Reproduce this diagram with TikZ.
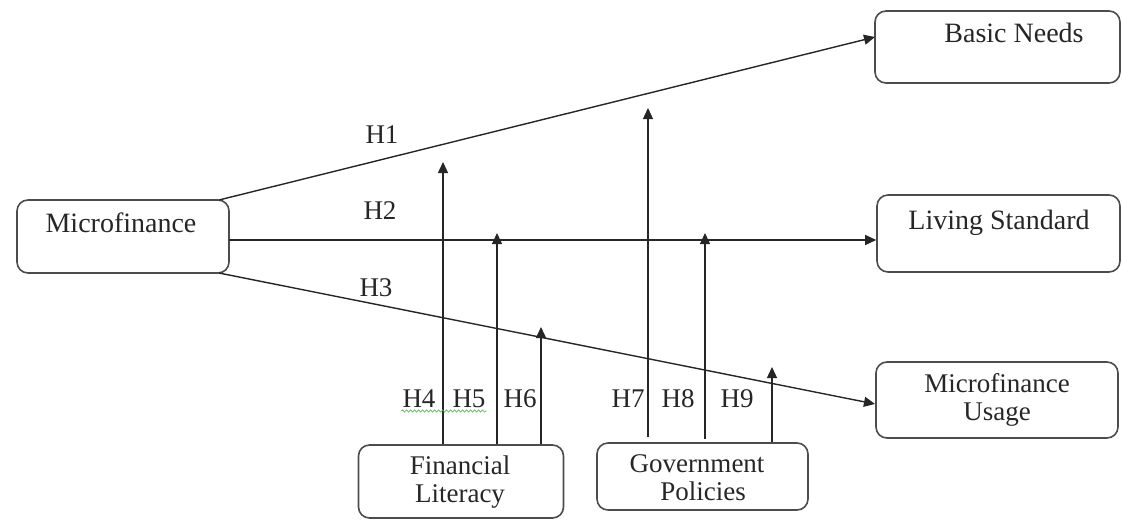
\documentclass[tikz,border=0pt]{standalone}
\usepackage{fontspec}
\setmainfont{Liberation Serif}
\usetikzlibrary{arrows.meta,decorations.pathmorphing}
\begin{document}
\begin{tikzpicture}[x=1pt,y=-1pt,
  box/.style={draw=black!70,line width=1.6pt,rounded corners=11pt,inner sep=0pt},
  lbl/.style={font=\fontsize{28}{25}\selectfont,inner sep=0pt,anchor=base,text=black!85,align=center},
  lbltwo/.style={lbl,font=\fontsize{27}{28}\selectfont},
  hl/.style={font=\fontsize{27}{30}\selectfont,inner sep=0pt,anchor=base,text=black!85},
  con/.style={draw=black!85,line width=1.4pt},
  arr/.style={con,-{Triangle[length=11pt,width=10pt]}}]
\useasboundingbox (0,0) rectangle (1122,520);
% boxes
\node[box,minimum width=212pt,minimum height=73pt] (mf) at (123,236.5) {};
\node[box,minimum width=245pt,minimum height=72pt] (bn) at (997.5,47) {};
\node[box,minimum width=243pt,minimum height=77pt] (ls) at (998.5,233.5) {};
\node[box,minimum width=242pt,minimum height=76pt] (mu) at (997,400) {};
\node[box,minimum width=205pt,minimum height=73pt] (fl) at (461,481.5) {};
\node[box,minimum width=211pt,minimum height=67pt] (gp) at (702.5,476.5) {};
% texts
\node[lbl] (tmf) at (121,232) {Microfinance};
\node[lbl] (tbn) at (1014,42) {Basic Needs};
\node[lbl] (tls) at (999,229) {Living Standard};
\node[lbltwo] (tmu) at (997,420) {Microfinance\\Usage};
\node[lbltwo] (tfl) at (460,502) {Financial\\Literacy};
\node[lbltwo] (tgp) at (697,500) {Government\\\hspace*{12pt}Policies};
% main connectors
\coordinate (s1) at (219,200);
\coordinate (e1) at (875,37);
\coordinate (s2) at (229,240);
\coordinate (s3) at (219,273);
\coordinate (e3) at (875,404);
\draw[arr] (s1) -- (e1);
\draw[arr] (s2) -- (s2 -| ls.west);
\draw[arr] (s3) -- (e3);
% moderators
\coordinate (t4) at (443,162);
\coordinate (t5) at (497,233);
\coordinate (t6) at (541,327);
\coordinate (t7) at (648,108);
\coordinate (t8) at (705,233);
\coordinate (t9) at (772,367);
\draw[arr] (t4 |- fl.north) -- (t4);
\draw[arr] (t5 |- fl.north) -- (t5);
\draw[arr] (t6 |- fl.north) -- (t6);
\draw[arr] ([yshift=5pt]t7 |- gp.north) -- (t7);
\draw[arr] ([yshift=3pt]t8 |- gp.north) -- (t8);
\draw[arr] (t9 |- gp.north) -- (t9);
% hypothesis labels
\node[hl] (h1) at (382,143) {H1};
\node[hl] (h2) at (380,219) {H2};
\node[hl] (h3) at (376,296) {H3};
\node[hl] (h4) at (419,407) {H4};
\node[hl] (h5) at (469,407) {H5};
\node[hl] (h6) at (520,407) {H6};
\node[hl] (h7) at (628,407) {H7};
\node[hl] (h8) at (678,407) {H8};
\node[hl] (h9) at (737,407) {H9};
\draw[green!60!black!70,line width=0.6pt,decorate,decoration={snake,amplitude=1.2pt,segment length=4pt}]
  ([xshift=-1pt,yshift=-4pt]h4.base west) -- ([xshift=1pt,yshift=-4pt]h5.base east);
\end{tikzpicture}
\end{document}
